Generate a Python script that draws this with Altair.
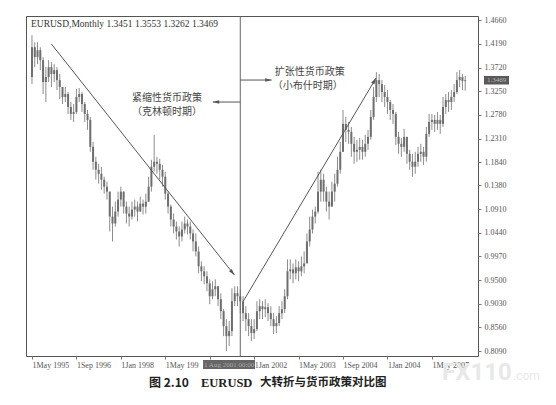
import altair as alt
import pandas as pd

# ---------------- data (monthly EURUSD bars) ----------------
first_open = 1.3532
closes = [
    1.4125, 1.3928, 1.4066, 1.3868, 1.3433, 1.3532, 1.3730, 1.3591, 1.3670, 1.3472,
    1.3334, 1.3136, 1.3195, 1.2938, 1.2800, 1.2839, 1.3136, 1.3195, 1.2997, 1.2800,
    1.2681, 1.2146, 1.1850, 1.1691, 1.1612, 1.1493, 1.1355, 1.1256, 1.0761, 1.0623,
    1.0860, 1.1098, 1.1256, 1.0959, 1.0821, 1.0761, 1.0900, 1.0959, 1.0860, 1.1018,
    1.0959, 1.1058, 1.1355, 1.1751, 1.1850, 1.1810, 1.1691, 1.1553, 1.1216, 1.0959,
    1.0702, 1.0563, 1.0464, 1.0365, 1.0504, 1.0623, 1.0563, 1.0425, 1.0266, 1.0068,
    0.9772, 0.9673, 0.9574, 0.9435, 0.9178, 0.9316, 0.9376, 0.9119, 0.8881, 0.8584,
    0.8386, 0.8485, 0.9079, 0.9237, 0.9178, 0.9079, 0.8842, 0.8723, 0.8584, 0.8446,
    0.8525, 0.8881, 0.8980, 0.8921, 0.8960, 0.8842, 0.8723, 0.8584, 0.8644, 0.8842,
    0.8921, 0.9178, 0.9673, 0.9712, 0.9633, 0.9752, 0.9673, 0.9772, 0.9831, 1.0266,
    1.0504, 1.0761, 1.0860, 1.1256, 1.1493, 1.1256, 1.1058, 1.0959, 1.1256, 1.1414,
    1.1691, 1.2047, 1.2602, 1.2483, 1.2443, 1.2206, 1.2047, 1.2087, 1.2146, 1.2047,
    1.2206, 1.2344, 1.2740, 1.3136, 1.3472, 1.3393, 1.3235, 1.3136, 1.3037, 1.2879,
    1.2800, 1.2344, 1.2206, 1.2146, 1.2344, 1.2008, 1.1850, 1.1751, 1.1850, 1.2008,
    1.2047, 1.1949, 1.2404, 1.2641, 1.2681, 1.2602, 1.2681, 1.2602, 1.2938, 1.3077,
    1.3037, 1.3136, 1.3235, 1.3472, 1.3532, 1.3451, 1.3469,
]
highs = [
    1.4363, 1.4224, 1.4224, 1.4125, 1.3928, 1.3730, 1.3868, 1.3829, 1.3789, 1.3730,
    1.3591, 1.3334, 1.3334, 1.3235, 1.3037, 1.2997, 1.3294, 1.3314, 1.3235, 1.3037,
    1.2879, 1.2740, 1.2245, 1.1949, 1.1810, 1.1751, 1.1553, 1.1454, 1.1256, 1.0959,
    1.1058, 1.1256, 1.1355, 1.1256, 1.1058, 1.0959, 1.1058, 1.1098, 1.1058, 1.1157,
    1.1098, 1.1216, 1.1553, 1.1889, 1.2384, 1.1949, 1.1909, 1.1790, 1.1652, 1.1256,
    1.0999, 1.0821, 1.0662, 1.0563, 1.0662, 1.0761, 1.0702, 1.0662, 1.0504, 1.0425,
    1.0167, 0.9871, 0.9772, 0.9673, 0.9514, 0.9475, 0.9514, 0.9376, 0.9237, 0.8921,
    0.8723, 0.8683, 0.9336, 0.9376, 0.9376, 0.9316, 0.9178, 0.8980, 0.8842, 0.8723,
    0.8723, 0.9079, 0.9119, 0.9079, 0.9119, 0.9039, 0.8980, 0.8842, 0.8782, 0.8980,
    0.9079, 0.9316, 0.9910, 0.9910, 0.9831, 0.9910, 0.9871, 0.9970, 1.0068, 1.0425,
    1.0761, 1.0900, 1.0959, 1.1652, 1.1691, 1.1612, 1.1355, 1.1256, 1.1454, 1.1612,
    1.1949, 1.2245, 1.2879, 1.2740, 1.2641, 1.2542, 1.2344, 1.2285, 1.2325, 1.2285,
    1.2384, 1.2483, 1.2879, 1.3334, 1.3631, 1.3591, 1.3472, 1.3373, 1.3274, 1.3077,
    1.2997, 1.2839, 1.2443, 1.2325, 1.2503, 1.2344, 1.2087, 1.2008, 1.2047, 1.2146,
    1.2206, 1.2146, 1.2542, 1.2800, 1.2800, 1.2780, 1.2839, 1.2780, 1.3136, 1.3195,
    1.3235, 1.3274, 1.3393, 1.3631, 1.3670, 1.3591, 1.3553,
]
lows = [
    1.3393, 1.3730, 1.3789, 1.3670, 1.3195, 1.3037, 1.3433, 1.3334, 1.3433, 1.3274,
    1.3096, 1.2997, 1.3037, 1.2800, 1.2681, 1.2641, 1.2800, 1.3037, 1.2839, 1.2641,
    1.2483, 1.2047, 1.1691, 1.1493, 1.1414, 1.1295, 1.1216, 1.1098, 1.0464, 1.0266,
    1.0563, 1.0761, 1.0959, 1.0821, 1.0623, 1.0563, 1.0702, 1.0761, 1.0662, 1.0860,
    1.0801, 1.0821, 1.1058, 1.1256, 1.1652, 1.1612, 1.1493, 1.1355, 1.1098, 1.0821,
    1.0563, 1.0425, 1.0306, 1.0167, 1.0266, 1.0425, 1.0405, 1.0306, 1.0068, 0.9970,
    0.9633, 0.9475, 0.9415, 0.9277, 0.9020, 0.9119, 0.9178, 0.8980, 0.8723, 0.8386,
    0.8089, 0.8188, 0.8386, 0.8980, 0.8980, 0.8842, 0.8683, 0.8485, 0.8386, 0.8287,
    0.8327, 0.8485, 0.8723, 0.8723, 0.8762, 0.8683, 0.8584, 0.8426, 0.8446, 0.8584,
    0.8723, 0.8842, 0.9119, 0.9514, 0.9435, 0.9514, 0.9475, 0.9574, 0.9633, 0.9831,
    1.0167, 1.0425, 1.0623, 1.0821, 1.1058, 1.1058, 1.0860, 1.0702, 1.0959, 1.1058,
    1.1355, 1.1612, 1.2047, 1.2245, 1.2206, 1.1949, 1.1810, 1.1850, 1.1889, 1.1889,
    1.1949, 1.2087, 1.2285, 1.2681, 1.3037, 1.3136, 1.3037, 1.2938, 1.2800, 1.2681,
    1.2602, 1.2186, 1.2008, 1.1949, 1.2047, 1.1810, 1.1691, 1.1553, 1.1612, 1.1751,
    1.1850, 1.1790, 1.1850, 1.2344, 1.2483, 1.2443, 1.2483, 1.2404, 1.2542, 1.2800,
    1.2839, 1.2879, 1.3037, 1.3195, 1.3334, 1.3274, 1.3262,
]
opens = [first_open] + closes[:-1]

y_tick_values = [0.8090, 0.8560, 0.9030, 0.9500, 0.9970, 1.0440, 1.0910, 1.1380,
                 1.1840, 1.2310, 1.2780, 1.3250, 1.3720, 1.4190, 1.4660]
y_tick_labels = ["0.8090", "0.8560", "0.9030", "0.9500", "0.9970", "1.0440", "1.0910",
                 "0.1380", "1.1840", "1.2310", "1.2780", "1.3250", "1.3720", "1.4190", "1.4660"]
x_tick_values = [0, 16, 32, 48, 64, 80, 96, 112, 128, 144]
x_tick_labels = ["1May 1995", "1Sep 1996", "1Jan 1998", "1May 199", "",
                 "1Jan 2002", "1May 2003", "1Sep 2004", "1Jan 2004", "1May 2007"]

title_text = "EURUSD,Monthly  1.3451 1.3553 1.3262 1.3469"
last_close = 1.3469
split_idx = 75

annot_idx = [48.6, 48.6, 100.0, 99.3]
annot_p = [1.3116, 1.2838, 1.3632, 1.3354]
annot_text = ["紧缩性货币政策", "（克林顿时期）", "扩张性货币政策", "（小布什时期）"]

# arrows: (start idx, start price) -> (end idx, end price)
seg_x = [7.0, 76.1, 75.0, 75.0]
seg_y = [1.4189, 0.9082, 1.3036, 1.3473]
seg_x2 = [72.9, 123.9, 65.1, 86.3]
seg_y2 = [0.9599, 1.3513, 1.3036, 1.3473]
head_ang = [141, 31, 270, 90]

# ---------------- chart ----------------
W, H = 452, 340
xs = alt.Scale(domain=[-0.35, 158.8], nice=False, zero=False)
ys = alt.Scale(domain=[0.7991, 1.4745], nice=False, zero=False)

bars = pd.DataFrame({"idx": list(range(len(closes))), "open": opens,
                     "high": highs, "low": lows, "close": closes})

y_expr = "[" + ",".join(f"'{l}'" for l in y_tick_labels) + "][indexof([" + \
    ",".join(str(v) for v in y_tick_values) + "], datum.value)]"
x_expr = "[" + ",".join(f"'{l}'" for l in x_tick_labels) + "][indexof([" + \
    ",".join(str(v) for v in x_tick_values) + "], datum.value)]"

x_axis = alt.Axis(values=x_tick_values, labelExpr=x_expr, labelAlign="left",
                  labelPadding=2, labelOverlap=False, labelFlush=False, title=None)
y_axis = alt.Axis(orient="right", values=y_tick_values, labelExpr=y_expr,
                  labelPadding=3, labelOverlap=False, labelFlush=False, title=None)


def X(field):
    return alt.X(field, scale=xs, title=None, axis=x_axis)


def Y(field):
    return alt.Y(field, scale=ys, title=None, axis=y_axis)


base = alt.Chart(bars)
wick = base.mark_rule(color="#8c8c8c", strokeWidth=1).encode(
    x=X("idx:Q"), y=Y("low:Q"), y2="high:Q",
)
body = base.mark_bar(size=2, color="#6e6e6e").encode(
    x=X("idx:Q"), y=Y("open:Q"), y2="close:Q",
)

vline = alt.Chart(pd.DataFrame({"idx": [split_idx]})).mark_rule(
    color="#666666", strokeWidth=1).encode(x=X("idx:Q"))

segs = pd.DataFrame({"x": seg_x, "y": seg_y, "x2": seg_x2, "y2": seg_y2, "ang": head_ang})
seg_rules = alt.Chart(segs).mark_rule(color="#555555", strokeWidth=1).encode(
    x=X("x:Q"), y=Y("y:Q"), x2="x2:Q", y2="y2:Q")
heads = alt.Chart(segs).mark_point(
    shape="M0,0L0.9,3.2L-0.9,3.2Z", filled=True, size=16, color="#555555",
    opacity=1, strokeWidth=0).encode(
    x=X("x2:Q"), y=Y("y2:Q"), angle=alt.Angle("ang:Q", scale=None))

annots = alt.Chart(pd.DataFrame({"idx": annot_idx, "p": annot_p, "t": annot_text})).mark_text(
    font="Noto Sans CJK SC", fontSize=10, color="#444444", align="center", baseline="middle"
).encode(x=X("idx:Q"), y=Y("p:Q"), text="t:N")

title = alt.Chart(pd.DataFrame({"t": [title_text]})).mark_text(
    font="Liberation Serif", fontSize=9.5, color="#333333", align="left", baseline="middle"
).encode(x=alt.value(5), y=alt.value(8), text="t:N")

tag = pd.DataFrame({"p": [last_close], "lo": [last_close - 0.0085], "hi": [last_close + 0.0085],
                    "t": [f"{last_close:.4f}"]})
tag_box = alt.Chart(tag).mark_rect(color="#5a5a5a").encode(
    x=alt.value(W + 6), x2=alt.value(W + 31), y=Y("lo:Q"), y2="hi:Q")
tag_txt = alt.Chart(tag).mark_text(font="Liberation Serif", fontSize=7, color="#b8b8b8",
                                   align="center", baseline="middle").encode(
    x=alt.value(W + 18.5), y=Y("p:Q"), text="t:N")

date_df = pd.DataFrame({"x": [61.6], "x2": [80.3], "xm": [71.0], "t": ["1 Aug 2001 00:00"]})
date_box = alt.Chart(date_df).mark_rect(color="#666666").encode(
    x=X("x:Q"), x2="x2:Q", y=alt.value(H + 4), y2=alt.value(H + 13))
date_txt = alt.Chart(date_df).mark_text(font="Liberation Serif", fontSize=7, color="#a8a8a8",
                                        align="center", baseline="middle").encode(
    x=X("xm:Q"), y=alt.value(H + 8.5), text="t:N")

cap_text = ["图 2.10", "EURUSD", "大转折与货币政策对比图"]
cap1 = alt.Chart(pd.DataFrame({"t": [cap_text[0]]})).mark_text(
    font="Noto Sans CJK SC", fontSize=12, fontWeight="bold", color="#222222",
    align="left", baseline="middle").encode(x=alt.value(123), y=alt.value(H + 27), text="t:N")
cap2 = alt.Chart(pd.DataFrame({"t": [cap_text[1]]})).mark_text(
    font="Liberation Serif", fontSize=12.5, fontWeight="bold", color="#222222",
    align="left", baseline="middle").encode(x=alt.value(175), y=alt.value(H + 27), text="t:N")
cap3 = alt.Chart(pd.DataFrame({"t": [cap_text[2]]})).mark_text(
    font="Noto Sans CJK SC", fontSize=11.5, fontWeight="bold", color="#222222",
    align="left", baseline="middle").encode(x=alt.value(234), y=alt.value(H + 27), text="t:N")

wm1 = alt.Chart(pd.DataFrame({"t": ["FX110"]})).mark_text(
    font="Roboto", fontSize=24, fontWeight="bold", color="#e8e8e8",
    align="left", baseline="middle").encode(x=alt.value(416), y=alt.value(H + 17), text="t:N")
wm2 = alt.Chart(pd.DataFrame({"t": [".com"]})).mark_text(
    font="Roboto", fontSize=12, color="#e8e8e8",
    align="left", baseline="middle").encode(x=alt.value(487), y=alt.value(H + 20), text="t:N")

chart = alt.layer(
    wick, body, vline, seg_rules, heads, annots, title, tag_box, tag_txt,
    date_box, date_txt, wm1, wm2, cap1, cap2, cap3
).properties(
    width=W, height=H,
    padding={"left": 18, "top": 7, "right": 5, "bottom": 5},
    background="white",
).configure_view(
    stroke="#555555", strokeWidth=1
).configure_axis(
    domain=False, grid=False, labelFont="Liberation Serif", labelFontSize=8,
    labelColor="#555555", tickColor="#777777", tickSize=3, labelOverlap=False
)

chart.save("out.html", embed_options={"renderer": "svg", "actions": False})
